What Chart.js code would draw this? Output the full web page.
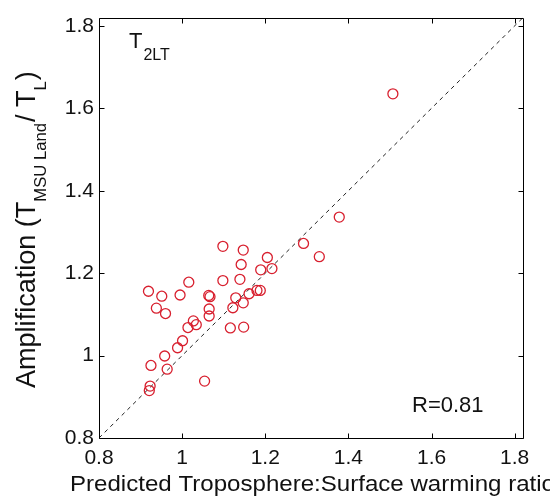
<!DOCTYPE html>
<html>
<head>
<meta charset="utf-8">
<script src="https://cdn.jsdelivr.net/npm/chart.js@4"></script>
<style>
html, body { margin: 0; padding: 0; background: #fff; }
#wrap { width: 550px; height: 496px; }
</style>
</head>
<body>
<div id="wrap"><canvas id="ampChart"></canvas></div>
<script>
// predicted troposphere:surface ratio (x) vs observed amplification (y)
const predictedRatio = [
  1.507, 1.378, 1.292, 1.330, 1.098, 1.147, 1.205, 1.142, 1.189, 1.216,
  1.098, 1.139, 1.016, 0.919, 0.951, 0.995, 1.064, 1.067, 1.065, 1.065,
  1.129, 1.122, 1.147, 1.161, 1.180, 1.188, 1.116, 1.148, 0.938, 0.960,
  1.027, 1.034, 1.014, 1.001, 0.989, 0.958, 0.925, 0.964, 1.054, 0.923,
  0.921
];
const amplification = [
  1.635, 1.336, 1.272, 1.240, 1.265, 1.256, 1.238, 1.221, 1.208, 1.211,
  1.182, 1.185, 1.178, 1.156, 1.144, 1.147, 1.146, 1.143, 1.113, 1.096,
  1.140, 1.116, 1.128, 1.150, 1.158, 1.158, 1.067, 1.069, 1.115, 1.102,
  1.084, 1.075, 1.068, 1.036, 1.019, 0.999, 0.976, 0.967, 0.938, 0.926,
  0.915
];
const xTicks = [0.8, 1, 1.2, 1.4, 1.6, 1.8];
const yTicks = [0.8, 1, 1.2, 1.4, 1.6, 1.8];
const oneToOne = [0.8, 1.82];
const rText = 'R=0.81';
const xTitle = 'Predicted Troposphere:Surface warming ratio';
const yTitleParts = [
  ['Amplification (T', false],
  ['MSU Land', true],
  ['/ T', false],
  ['L', true],
  [')', false]
];

const FONT = 'Liberation Sans';
const INK = '#111';

const points = predictedRatio.map((x, i) => ({ x: x, y: amplification[i] }));
const diag = oneToOne.map(v => ({ x: v, y: v }));

function f(size) { return size + 'px "' + FONT + '"'; }

// draws the box, inward ticks and the texts with subscripts
const frameAndText = {
  id: 'frameAndText',
  afterDatasetsDraw(chart) {
    const ctx = chart.ctx;
    const a = chart.chartArea;
    const xs = chart.scales.x;
    const ys = chart.scales.y;
    const L = Math.round(a.left) + 0.5, R = Math.round(a.right) + 0.5;
    const T = Math.round(a.top) + 0.5, B = Math.round(a.bottom) + 0.5;
    const tl = 5;

    ctx.save();
    ctx.strokeStyle = '#000';
    ctx.lineWidth = 1;
    ctx.beginPath();
    ctx.rect(L, T, R - L, B - T);
    xTicks.forEach(v => {
      const px = Math.round(xs.getPixelForValue(v)) + 0.5;
      ctx.moveTo(px, B); ctx.lineTo(px, B - tl);
      ctx.moveTo(px, T); ctx.lineTo(px, T + tl);
    });
    yTicks.forEach(v => {
      const py = Math.round(ys.getPixelForValue(v)) + 0.5;
      ctx.moveTo(L, py); ctx.lineTo(L + tl, py);
      ctx.moveTo(R, py); ctx.lineTo(R - tl, py);
    });
    ctx.stroke();

    ctx.fillStyle = INK;
    ctx.textBaseline = 'alphabetic';
    ctx.textAlign = 'left';

    // T_2LT label
    ctx.font = f(22);
    ctx.fillText('T', 129, 48);
    let w = ctx.measureText('T').width;
    ctx.font = f(16);
    ctx.fillText('2LT', 129 + w + 1, 60);

    // correlation
    ctx.font = f(22);
    ctx.fillText(rText, 412, 412);

    // x axis title, stretched a bit so it runs from x=70 off the right edge
    ctx.save();
    ctx.font = f(22);
    const sx = 485 / ctx.measureText(xTitle).width;
    ctx.translate(70, 491);
    ctx.scale(sx, 1);
    ctx.fillText(xTitle, 0, 0);
    ctx.restore();

    // y axis title, rotated; font sized to span y 388 -> 71
    let total = 0;
    yTitleParts.forEach(p => {
      ctx.font = f(p[1] ? 16 : 26);
      total += ctx.measureText(p[0]).width + (p[1] ? 1 : 0);
    });
    const k = 317 / total;
    ctx.translate(35, 388);
    ctx.rotate(-Math.PI / 2);
    let cx = 0;
    yTitleParts.forEach(p => {
      ctx.font = f((p[1] ? 16 : 26) * k);
      ctx.fillText(p[0], cx, p[1] ? 11 : 0);
      cx += ctx.measureText(p[0]).width + (p[1] ? 1 : 0);
    });
    ctx.restore();
  }
};

new Chart(document.getElementById('ampChart'), {
  type: 'scatter',
  data: {
    datasets: [{
      label: 'models',
      data: points,
      pointStyle: 'circle',
      pointRadius: 5,
      pointBorderWidth: 1.3,
      borderColor: '#d8202f',
      backgroundColor: 'rgba(0,0,0,0)'
    }, {
      type: 'line',
      label: '1:1',
      data: diag,
      borderColor: '#222',
      borderWidth: 1,
      borderDash: [4, 4],
      pointRadius: 0,
      fill: false
    }]
  },
  options: {
    responsive: true,
    maintainAspectRatio: false,
    animation: false,
    layout: { padding: { top: 14, right: 27, left: 0, bottom: 0 } },
    plugins: { legend: { display: false }, tooltip: { enabled: false } },
    scales: {
      x: {
        type: 'linear',
        min: 0.8,
        max: 1.82,
        grid: { display: false, drawTicks: false },
        border: { display: false },
        afterBuildTicks: s => { s.ticks = xTicks.map(v => ({ value: v })); },
        afterFit: s => { s.height = 58; },
        ticks: {
          color: INK,
          padding: 8,
          maxRotation: 0,
          font: { family: FONT, size: 21 },
          callback: v => String(v)
        }
      },
      y: {
        type: 'linear',
        min: 0.8,
        max: 1.82,
        grid: { display: false, drawTicks: false },
        border: { display: false },
        afterBuildTicks: s => { s.ticks = yTicks.map(v => ({ value: v })); },
        afterFit: s => { s.width = 99; },
        ticks: {
          color: INK,
          padding: 5,
          font: { family: FONT, size: 21 },
          callback: v => String(v)
        }
      }
    }
  },
  plugins: [frameAndText]
});
</script>
</body>
</html>
